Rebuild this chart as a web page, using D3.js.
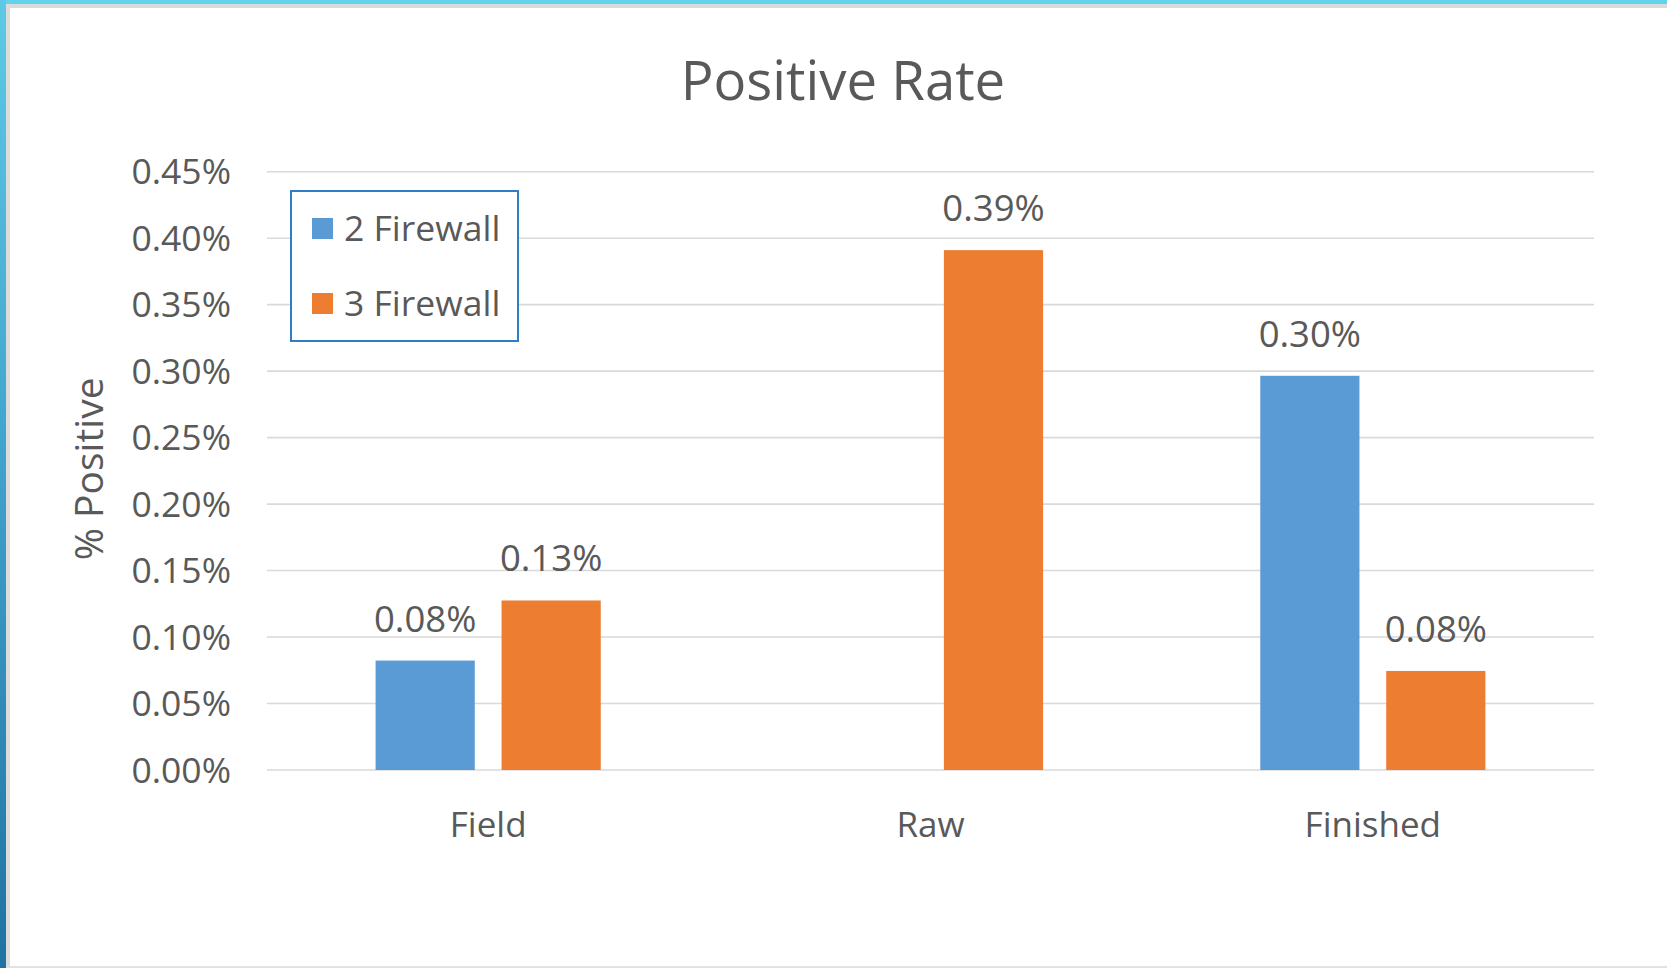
<!DOCTYPE html>
<html>
<head>
<meta charset="utf-8">
<script src="https://cdn.jsdelivr.net/npm/d3@7"></script>
<style>
  html, body { margin: 0; padding: 0; background: #ffffff; }
  svg { display: block; }
  text { font-family: "Open Sans", "Noto Sans", sans-serif; fill: #595959; }
</style>
</head>
<body>
<svg id="chart" width="1667" height="968"></svg>
<script>
// ---- data ----
const categories = ["Field", "Raw", "Finished"];
const seriesNames = ["2 Firewall", "3 Firewall"];
const twoFirewall = [0.0823, null, 0.2965];
const threeFirewall = [0.1275, 0.391, 0.0745];
const dataLabels2 = ["0.08%", null, "0.30%"];
const dataLabels3 = ["0.13%", "0.39%", "0.08%"];
const yTicks = [0, 0.05, 0.10, 0.15, 0.20, 0.25, 0.30, 0.35, 0.40, 0.45];
const colors = ["#5B9BD5", "#ED7D31"];

const svg = d3.select("#chart");
const W = 1667, H = 968;

// ---- frame decoration ----
const defs = svg.append("defs");
const grad = defs.append("linearGradient").attr("id", "leftGrad")
  .attr("x1", 0).attr("y1", 0).attr("x2", 0).attr("y2", 1);
grad.append("stop").attr("offset", "0%").attr("stop-color", "#5EC9E6");
grad.append("stop").attr("offset", "40%").attr("stop-color", "#45A9D0");
grad.append("stop").attr("offset", "100%").attr("stop-color", "#1F72A3");

svg.append("rect").attr("x", 0).attr("y", 0).attr("width", W).attr("height", H).attr("fill", "#ffffff");
svg.append("rect").attr("x", 0).attr("y", 0).attr("width", W).attr("height", 4).attr("fill", "#63D3EC");
svg.append("rect").attr("x", 6).attr("y", 4).attr("width", W - 6).attr("height", 4).attr("fill", "#DADADA");
svg.append("rect").attr("x", 0).attr("y", 0).attr("width", 6).attr("height", H).attr("fill", "url(#leftGrad)");
svg.append("rect").attr("x", 6).attr("y", 4).attr("width", 4).attr("height", H - 4).attr("fill", "#DCDCDC");
svg.append("rect").attr("x", 6).attr("y", 966).attr("width", W - 6).attr("height", 2).attr("fill", "#E2E2E2");

// ---- scales ----
const plot = { left: 267, right: 1594, top: 171.7, bottom: 770 };
const x0 = d3.scaleBand().domain(categories).range([plot.left, plot.right]).paddingInner(0).paddingOuter(0);
const x1 = d3.scaleBand().domain(seriesNames).range([0, x0.bandwidth()]).paddingInner(0.2126).paddingOuter(0.862);
const y = d3.scaleLinear().domain([0, 0.45]).range([plot.bottom, plot.top]);

// ---- gridlines ----
svg.append("g").selectAll("line").data(yTicks).join("line")
  .attr("x1", plot.left).attr("x2", plot.right)
  .attr("y1", d => y(d)).attr("y2", d => y(d))
  .attr("stroke", "#D9D9D9").attr("stroke-width", 1.6);

// ---- y tick labels ----
svg.append("g").selectAll("text").data(yTicks).join("text")
  .attr("x", 231).attr("y", d => y(d) + 12.5)
  .attr("text-anchor", "end")
  .style("font-size", "35.5px")
  .text(d => d.toFixed(2) + "%");

// ---- bars ----
const seriesData = [twoFirewall, threeFirewall];
const labelData = [dataLabels2, dataLabels3];
seriesNames.forEach((s, si) => {
  const rows = categories.map((c, i) => ({ c, v: seriesData[si][i], lab: labelData[si][i] }))
    .filter(r => r.v !== null);
  svg.append("g").selectAll("rect").data(rows).join("rect")
    .attr("x", r => x0(r.c) + x1(s))
    .attr("width", x1.bandwidth())
    .attr("y", r => y(r.v))
    .attr("height", r => y(0) - y(r.v))
    .attr("fill", colors[si]);
  svg.append("g").selectAll("text").data(rows).join("text")
    .attr("x", r => x0(r.c) + x1(s) + x1.bandwidth() / 2)
    .attr("y", r => y(r.v) - 29)
    .attr("text-anchor", "middle")
    .style("font-size", "36.5px")
    .text(r => r.lab);
});

// ---- category labels ----
svg.append("g").selectAll("text").data(categories).join("text")
  .attr("x", d => x0(d) + x0.bandwidth() / 2)
  .attr("y", 837)
  .attr("text-anchor", "middle")
  .style("font-size", "35px")
  .text(d => d);

// ---- axis title ----
svg.append("text")
  .attr("transform", "translate(103," + ((plot.top + plot.bottom) / 2 - 2) + ") rotate(-90)")
  .attr("text-anchor", "middle")
  .style("font-size", "39px")
  .text("% Positive");

// ---- chart title ----
svg.append("text")
  .attr("x", 843).attr("y", 100)
  .attr("text-anchor", "middle")
  .style("font-size", "54.5px")
  .text("Positive Rate");

// ---- legend ----
const lg = svg.append("g");
lg.append("rect").attr("x", 291).attr("y", 191).attr("width", 227).attr("height", 150)
  .attr("fill", "#ffffff").attr("stroke", "#2E7DC6").attr("stroke-width", 2);
seriesNames.forEach((s, i) => {
  const ly = 228.5 + i * 75;
  lg.append("rect").attr("x", 312).attr("y", ly - 10.5).attr("width", 21).attr("height", 21).attr("fill", colors[i]);
  lg.append("text").attr("x", 344).attr("y", ly + 12).style("font-size", "35.5px").text(s);
});
</script>
</body>
</html>
